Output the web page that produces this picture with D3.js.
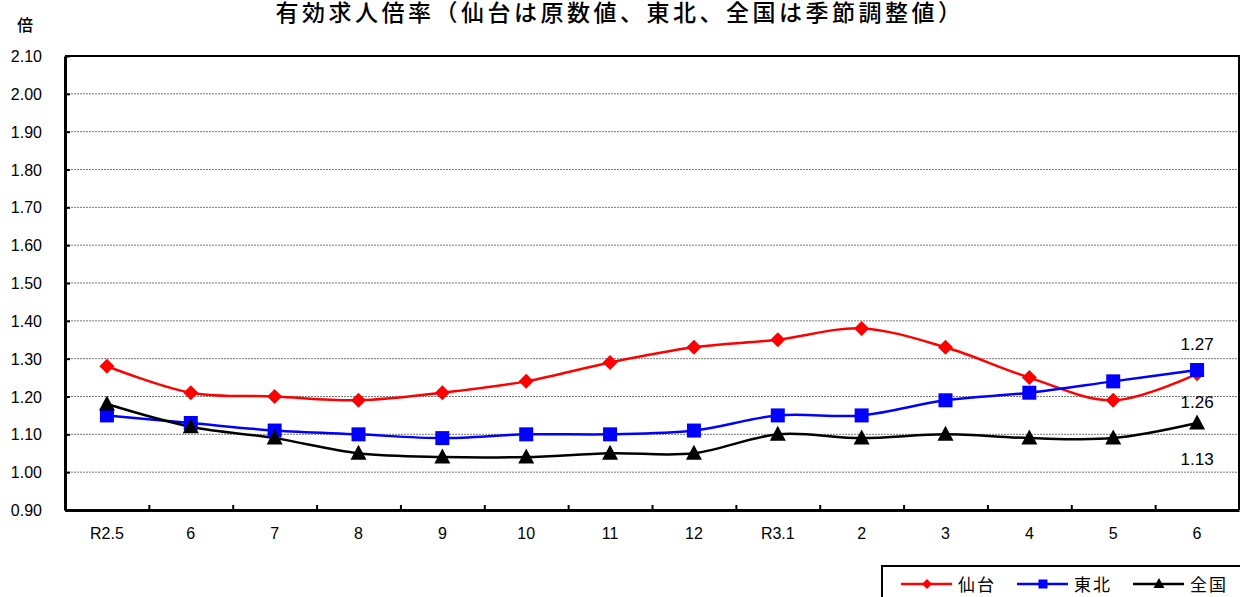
<!DOCTYPE html>
<html>
<head>
<meta charset="utf-8">
<script src="https://cdn.jsdelivr.net/npm/d3@7"></script>
<style>
  body { margin: 0; background: #fff; }
  svg { display: block; }
  text { font-family: "Liberation Sans", Arial, "Noto Sans CJK JP", sans-serif; }
  .jp { font-family: "Noto Sans CJK JP", sans-serif; }
</style>
</head>
<body>
<script>
// months: R2.5 .. R3.6
var categories = ["R2.5", "6", "7", "8", "9", "10", "11", "12", "R3.1", "2", "3", "4", "5", "6"];
var sendai   = [1.28, 1.21, 1.20, 1.19, 1.21, 1.24, 1.29, 1.33, 1.35, 1.38, 1.33, 1.25, 1.19, 1.26];
var tohoku   = [1.15, 1.13, 1.11, 1.10, 1.09, 1.10, 1.10, 1.11, 1.15, 1.15, 1.19, 1.21, 1.24, 1.27];
var national = [1.18, 1.12, 1.09, 1.05, 1.04, 1.04, 1.05, 1.05, 1.10, 1.09, 1.10, 1.09, 1.09, 1.13];
var yTicks = [0.90, 1.00, 1.10, 1.20, 1.30, 1.40, 1.50, 1.60, 1.70, 1.80, 1.90, 2.00, 2.10];

var series = [
  { name: "仙台", values: sendai,   color: "#ff0000", marker: "diamond" },
  { name: "東北", values: tohoku,   color: "#0000ff", marker: "square" },
  { name: "全国", values: national, color: "#000000", marker: "triangle" }
];

var width = 1240, height = 597;
var plotL = 65, plotR = 1239, plotT = 56, plotB = 510;

var svg = d3.select("body").append("svg")
    .attr("width", width)
    .attr("height", height);

var x = d3.scaleBand().domain(d3.range(categories.length)).range([plotL, plotR]);
var y = d3.scaleLinear().domain([0.9, 2.1]).range([plotB, plotT]);
var cx = function(i) { return x(i) + x.bandwidth() / 2; };

// title
svg.append("text")
    .attr("class", "jp")
    .attr("x", 620).attr("y", 21)
    .attr("text-anchor", "middle")
    .style("font-size", "23px")
    .style("letter-spacing", "3.5px")
    .style("font-weight", "500")
    .text("有効求人倍率（仙台は原数値、東北、全国は季節調整値）");

svg.append("text")
    .attr("class", "jp")
    .attr("x", 25).attr("y", 31)
    .attr("text-anchor", "middle")
    .style("font-size", "16px")
    .style("font-weight", "500")
    .text("倍");

// gridlines
svg.append("g")
  .selectAll("line")
  .data(yTicks.filter(function(d) { return d > 0.95 && d < 2.05; }))
  .enter().append("line")
    .attr("x1", plotL).attr("x2", plotR)
    .attr("y1", function(d) { return y(d); })
    .attr("y2", function(d) { return y(d); })
    .attr("stroke", "#777")
    .attr("stroke-width", 1)
    .attr("stroke-dasharray", "2,1");

// plot frame (top / right)
svg.append("path")
    .attr("d", "M" + plotL + "," + plotT + "H" + plotR + "V" + plotB)
    .attr("fill", "none")
    .attr("stroke", "#000")
    .attr("stroke-width", 2);

// y axis
var yAxis = svg.append("g")
    .attr("transform", "translate(" + plotL + ",0)")
    .call(d3.axisRight(y).tickValues(yTicks).tickSize(5).tickSizeOuter(0).tickFormat(""));
yAxis.select(".domain").attr("stroke-width", 3);
yAxis.selectAll(".tick line").attr("stroke-width", 2);

svg.append("g")
  .selectAll("text")
  .data(yTicks)
  .enter().append("text")
    .attr("x", 42)
    .attr("y", function(d) { return y(d) + 6; })
    .attr("text-anchor", "end")
    .style("font-size", "16px")
    .text(function(d) { return d3.format(".2f")(d); });

// x axis
var xb = d3.scaleLinear().domain([0, categories.length]).range([plotL, plotR]);
var xAxis = svg.append("g")
    .attr("transform", "translate(0," + plotB + ")")
    .call(d3.axisTop(xb).tickValues(d3.range(1, categories.length)).tickSize(5).tickFormat("").tickSizeOuter(0));
xAxis.select(".domain").attr("stroke-width", 3);
xAxis.selectAll(".tick line").attr("stroke-width", 2);

svg.append("g")
  .selectAll("text")
  .data(categories)
  .enter().append("text")
    .attr("x", function(d, i) { return cx(i); })
    .attr("y", 539)
    .attr("text-anchor", "middle")
    .style("font-size", "16px")
    .text(function(d) { return d; });

// markers
function drawMarker(g, type, color, s) {
  if (type === "diamond") {
    g.append("path").attr("d", "M0," + (-s) + "L" + s + ",0L0," + s + "L" + (-s) + ",0Z").attr("fill", color);
  } else if (type === "square") {
    g.append("rect").attr("x", -s + 0.5).attr("y", -s + 0.5).attr("width", 2 * s - 1).attr("height", 2 * s - 1).attr("fill", color);
  } else {
    g.append("path").attr("d", "M0," + (-s - 1) + "L" + (s + 0.5) + "," + (s - 1) + "L" + (-s - 0.5) + "," + (s - 1) + "Z").attr("fill", color);
  }
}

var line = d3.line()
    .x(function(d, i) { return cx(i); })
    .y(function(d) { return y(d); })
    .curve(d3.curveCardinal.tension(0));

series.forEach(function(s) {
  svg.append("path")
      .datum(s.values)
      .attr("d", line)
      .attr("fill", "none")
      .attr("stroke", s.color)
      .attr("stroke-width", 2.5);
});

series.forEach(function(s) {
  s.values.forEach(function(v, i) {
    var g = svg.append("g").attr("transform", "translate(" + cx(i) + "," + y(v) + ")");
    drawMarker(g, s.marker, s.color, 7.5);
  });
});

// end value labels
var last = categories.length - 1;
var endLabels = [
  { v: tohoku[last],   dy: -20 },
  { v: sendai[last],   dy: 34 },
  { v: national[last], dy: 42 }
];
svg.append("g")
  .selectAll("text")
  .data(endLabels)
  .enter().append("text")
    .attr("x", cx(last))
    .attr("y", function(d) { return y(d.v) + d.dy; })
    .attr("text-anchor", "middle")
    .style("font-size", "17px")
    .text(function(d) { return d3.format(".2f")(d.v); });

// legend
var lg = svg.append("g");
lg.append("rect")
    .attr("x", 882).attr("y", 566)
    .attr("width", 370).attr("height", 40)
    .attr("fill", "#fff")
    .attr("stroke", "#000")
    .attr("stroke-width", 2);
series.forEach(function(s, i) {
  var x0 = 901 + i * 116;
  lg.append("line")
      .attr("x1", x0).attr("x2", x0 + 51)
      .attr("y1", 584).attr("y2", 584)
      .attr("stroke", s.color).attr("stroke-width", 2.5);
  drawMarker(lg.append("g").attr("transform", "translate(" + (x0 + 26) + ",584)"), s.marker, s.color, 5);
  lg.append("text")
      .attr("class", "jp")
      .attr("x", x0 + 57).attr("y", 591)
      .style("font-size", "17px")
      .style("letter-spacing", "2px")
      .text(s.name);
});
</script>
</body>
</html>
